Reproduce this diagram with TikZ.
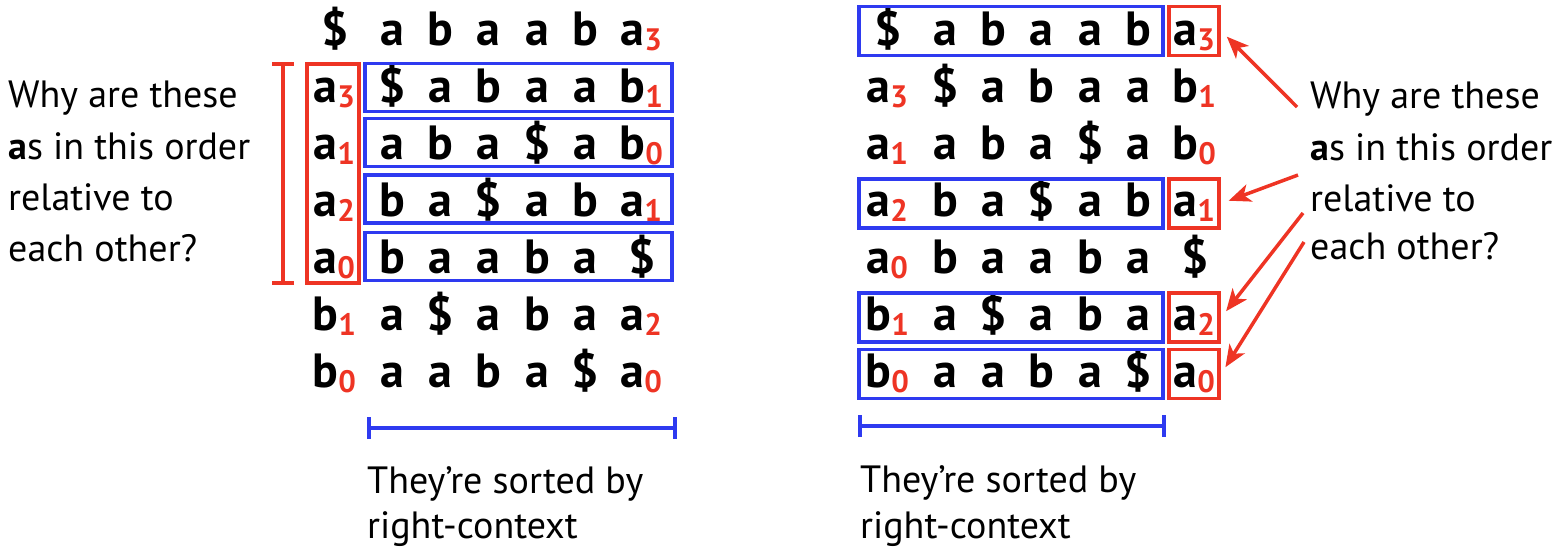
\documentclass[tikz,border=0pt]{standalone}
\usepackage{fontspec}
\setmainfont{PT Sans}
\usetikzlibrary{arrows.meta}
\definecolor{hlred}{RGB}{238,52,36}
\definecolor{hlblue}{RGB}{46,58,240}
\def\symA{a}\def\symB{b}\def\symD{\$}
\tikzset{
  letter/.style={inner sep=0pt, anchor=base, font=\fontsize{48}{48}\selectfont\bfseries},
  subnum/.style={inner sep=0pt, anchor=base west, text=hlred, font=\fontsize{31}{31}\selectfont\bfseries},
  bluebox/.style={draw=hlblue, line width=3.8pt, inner sep=0pt},
  redbox/.style={draw=hlred, line width=3.8pt, inner sep=0pt},
  redbar/.style={draw=hlred, line width=3.8pt, {Bar[width=22pt]}-{Bar[width=22pt]}},
  bluebar/.style={draw=hlblue, line width=3.8pt, {Bar[width=22pt]}-{Bar[width=22pt]}},
  qtext/.style={inner sep=0pt, anchor=base west, font=\fontsize{38}{38}\selectfont},
  arr/.style={draw=hlred, line width=3.5pt, -{Stealth[length=22pt,width=18pt,inset=6pt]}, shorten >=8pt},
}
\begin{document}
\begin{tikzpicture}[x=1pt,y=-1pt]
\useasboundingbox (0,0) rectangle (1560,555);

\foreach \side/\dx in {L/0,R/553}{
 \foreach \r/\y/\cells in {
   0/45/{D/9,A/9,B/9,A/9,A/9,B/9,A/3},
   1/102/{A/3,D/9,A/9,B/9,A/9,A/9,B/1},
   2/159/{A/1,A/9,B/9,A/9,D/9,A/9,B/0},
   3/216/{A/2,B/9,A/9,D/9,A/9,B/9,A/1},
   4/273/{A/0,B/9,A/9,A/9,B/9,A/9,D/9},
   5/330/{B/1,A/9,D/9,A/9,B/9,A/9,A/2},
   6/387/{B/0,A/9,A/9,B/9,A/9,D/9,A/0}}{
   \foreach \ch/\sb [count=\c from 0] in \cells {
     \ifcase\c\def\xb{325}\or\def\xb{392}\or\def\xb{440}\or\def\xb{488}\or\def\xb{537}\or\def\xb{585}\or\def\xb{632}\fi
     \def\xe{0}
     \ifnum\sb=9 \ifnum\c=0 \def\xe{10}\fi\ifnum\c=6 \def\xe{10}\fi\fi
     \pgfmathsetmacro\xx{\xb+\dx+\xe}
     \node[letter] (\side-\r-\c) at (\xx,\y) {\csname sym\ch\endcsname};
     \ifnum\sb<9
       \node[subnum] (\side-\r-\c-s) at ([xshift=0pt,yshift=-5pt]\side-\r-\c.base east) {\sb};
     \fi
   }
 }
}

% left boxes
\node[redbox, minimum width=52.5pt, minimum height=219.5pt] (LR) at (333,173.5) {};
\node[bluebox, minimum width=307.5pt, minimum height=48pt] (LB1) at (518.5,87.5) {};
\node[bluebox, minimum width=307.5pt, minimum height=48pt] (LB2) at (518.5,142.5) {};
\node[bluebox, minimum width=307.5pt, minimum height=48pt] (LB3) at (518.5,199) {};
\node[bluebox, minimum width=307.5pt, minimum height=48pt] (LB4) at (518.5,256.5) {};

% right boxes
\node[bluebox, minimum width=304.5pt, minimum height=49pt] (RB0) at (1011,31) {};
\node[redbox, minimum width=50.5pt, minimum height=49pt] (RR0) at (1194,31) {};
\node[bluebox, minimum width=304.5pt, minimum height=49pt] (RB3) at (1011,203.5) {};
\node[redbox, minimum width=50.5pt, minimum height=49pt] (RR3) at (1194,203.5) {};
\node[bluebox, minimum width=304.5pt, minimum height=49pt] (RB5) at (1011,317.5) {};
\node[redbox, minimum width=50.5pt, minimum height=49pt] (RR5) at (1194,317.5) {};
\node[bluebox, minimum width=304.5pt, minimum height=49pt] (RB6) at (1011,374) {};
\node[redbox, minimum width=50.5pt, minimum height=49pt] (RR6) at (1194,374) {};

% brackets
\coordinate (brT) at (283,62);
\coordinate (brB) at (283,285);
\draw[redbar] (brT) -- (brB);
\coordinate (lbA) at (367,428);
\coordinate (lbB) at (677,428);
\draw[bluebar] (lbA) -- (lbB);
\coordinate (rbA) at (858,426);
\coordinate (rbB) at (1166,426);
\draw[bluebar] (rbA) -- (rbB);

% left question
\node[qtext] (ql1) at (8,107) {Why are these};
\node[qtext] (ql2) at (8,159) {{\bfseries a}s in this order};
\node[qtext] (ql3) at (8,210) {relative to};
\node[qtext] (ql4) at (8,261) {each other?};

% right question
\node[qtext] (qr1) at (1310,108) {Why are these};
\node[qtext] (qr2) at (1310,160) {{\bfseries a}s in this order};
\node[qtext] (qr3) at (1310,211) {relative to};
\node[qtext] (qr4) at (1310,259) {each other?};

% sorted texts
\node[qtext] (sl1) at (367,493) {They’re sorted by};
\node[qtext] (sl2) at (367,538) {right-context};
\node[qtext] (sr1) at (860,492) {They’re sorted by};
\node[qtext] (sr2) at (860,538) {right-context};

% arrows
\coordinate (a1) at (1297,107);
\coordinate (a2) at (1298,175);
\coordinate (a3) at (1303,213);
\coordinate (a4) at (1304,242);
\draw[arr] (a1) -- (RR0.east);
\draw[arr] (a2) -- (RR3.east);
\draw[arr] (a3) -- (RR5.east);
\draw[arr] (a4) -- (RR6.east);
\end{tikzpicture}
\end{document}
